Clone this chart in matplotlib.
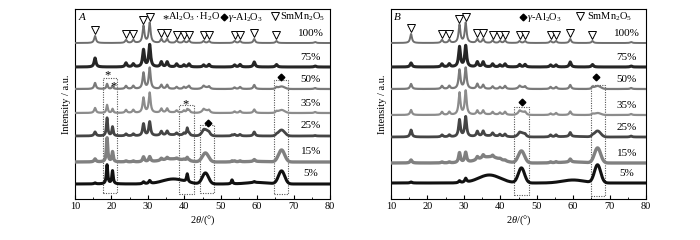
import numpy as np
import matplotlib
matplotlib.use("Agg")
import matplotlib.pyplot as plt
from matplotlib.patches import Rectangle

plt.rcParams['font.family'] = ['Liberation Serif', 'DejaVu Sans']
plt.rcParams['mathtext.fontset'] = 'custom'
plt.rcParams['mathtext.rm'] = 'Liberation Serif'
plt.rcParams['mathtext.it'] = 'Liberation Serif:italic'

# ---------------- data ----------------
labels = ['100%', '75%', '50%', '35%', '25%', '15%', '5%']

# SmMn2O5 reflections (2theta) and peak heights per sample
sm_pos = [15.5, 24.0, 26.0, 28.8, 30.5, 33.7, 35.3, 37.9, 39.9, 41.3, 45.3, 46.8, 53.8, 55.3, 59.2, 65.3, 75.9]
A_sm = [
    [7, 3, 3, 17, 20, 4, 4, 2.5, 2, 2.5, 2, 2, 2, 2, 4, 2, 1],
    [9, 4, 3, 17, 22, 5, 5, 3, 2, 3, 2, 2.5, 2, 2.5, 5, 2.5, 1],
    [6, 3, 3, 16, 21, 4, 4, 2, 2, 3, 2, 2, 1.5, 2, 4, 1.5, 1],
    [5, 3, 3, 15, 20, 4, 4, 2, 2, 2.5, 2, 2, 1.5, 2, 3.5, 1.5, 1],
    [4, 2, 2, 12, 14, 4, 4, 2, 2, 2, 1.5, 1.5, 1.5, 1.5, 4, 1, 0.5],
    [3, 1, 1, 5, 5, 2, 2, 1, 1, 1, 0, 0, 1, 1, 2, 0, 0],
    [1, 0, 0, 2, 3, 0, 0, 0, 0, 0, 0, 0, 0, 0, 1, 0, 0],
]
B_sm = [
    [9, 3, 3, 18, 20, 4, 4, 2.5, 2, 2.5, 2, 2, 2, 2, 4, 2, 1],
    [4, 3, 3, 20, 21, 5, 5, 3, 2, 3, 2.5, 2.5, 2, 2, 5, 2.5, 1],
    [5, 3, 3, 19, 21, 5, 4, 2.5, 2, 3, 2, 2, 2, 2, 4, 1.5, 1],
    [5, 3, 3, 22, 24, 4, 4, 2.5, 2, 3, 2, 2, 1.5, 2, 3.5, 1, 1],
    [7, 2, 2, 17, 20, 5, 5, 3, 2, 2.5, 1.5, 1.5, 2, 2, 4, 1, 1],
    [3, 1, 1, 10, 10, 3, 3, 2, 1, 1, 0, 0, 1, 1, 3, 0, 0],
    [1, 0, 0, 2, 4, 0, 0, 0, 0, 0, 0, 0, 0, 0, 0, 0, 0],
]

# Al2O3.H2O reflections (panel A only)
boh_pos = [18.8, 20.3, 40.8, 53.1]
A_boh = [
    [0, 0, 0, 0],
    [0, 0, 0, 0],
    [5, 3, 1, 0],
    [8, 4, 3, 0],
    [18, 9, 7, 1],
    [24, 10, 3, 1],
    [19, 13, 8, 4],
]

# gamma-Al2O3 broad reflections
gam_pos = [45.8, 66.7]
A_gam = [[0, 0], [0, 0], [1.5, 2.5], [2.5, 3], [6, 6], [9, 12], [11, 13]]
B_gam = [[0, 0], [0, 0], [1.5, 3], [3, 2], [4, 6], [12, 15], [15, 18]]

# amorphous humps
hump_pos = [37.0, 60.0]
A_hump = [[0, 0], [0, 0], [0, 0], [0.5, 0], [1, 0], [3, 0.5], [5, 1.5]]
B_hump = [[0, 0], [0, 0], [0, 0], [0.5, 0], [1, 0.5], [6, 1], [8, 3]]

# ---------------- styles / layout ----------------
A_base = [156, 132, 110, 86, 63, 37, 15]
B_base = [156, 132, 110, 84, 62, 36, 16]
colors = ['#6e6e6e', '#262626', '#7a7a7a', '#8c8c8c', '#454545', '#808080', '#111111']
lws = [1.4, 2.2, 1.6, 1.6, 2.0, 2.4, 2.2]

x = np.linspace(10, 80, 2800)


def profile(i, sm, boh, gam, hump):
    y = np.zeros_like(x)
    for p, h in zip(sm_pos, sm[i]):
        y += h / (1 + ((x - p) / 0.3) ** 2)
    if boh is not None:
        for p, h in zip(boh_pos, boh[i]):
            y += h / (1 + ((x - p) / 0.22) ** 2)
    for p, h in zip(gam_pos, gam[i]):
        y += h * np.exp(-0.5 * ((x - p) / 0.85) ** 2)
    for p, h in zip(hump_pos, hump[i]):
        y += h * np.exp(-0.5 * ((x - p) / 3.0) ** 2)
    return y


fig = plt.figure(figsize=(7, 2.4), dpi=100)
axA = fig.add_axes([75 / 700, 41 / 240, 255 / 700, 190 / 240])
axB = fig.add_axes([391 / 700, 41 / 240, 255 / 700, 190 / 240])

FS = 7.5
LFS = 8
GFS = 7.5
TRI = 5.2


def setup(ax):
    ax.set_xlim(10, 80)
    ax.set_ylim(0, 190)
    ax.set_yticks([])
    ax.set_xticks(np.arange(10, 81, 10))
    ax.set_xticks(np.arange(15, 80, 10), minor=True)
    ax.tick_params(axis='x', direction='in', length=3, labelsize=FS, pad=2, top=False)
    ax.tick_params(axis='x', which='minor', direction='in', length=1.8)
    for s in ax.spines.values():
        s.set_linewidth(0.8)
    ax.set_xlabel(r'2$\theta$/(°)', fontsize=FS, labelpad=2)
    ax.set_ylabel('Intensity / a.u.', fontsize=FS, labelpad=3)


def draw(ax, sm, boh, gam, hump, base):
    for i, lab in enumerate(labels):
        y = profile(i, sm, boh, gam, hump) + base[i]
        ax.plot(x, y, color=colors[i], lw=lws[i], zorder=3, solid_joinstyle='round')
        ax.text(74.7, base[i] + 10, lab, fontsize=LFS, ha='center', va='center', zorder=4)
    # triangle markers above the 100% peaks
    tri_pos = [p for p in sm_pos if p < 70]
    tri_y = [base[0] + h + 6 for p, h in zip(sm_pos, sm[0]) if p < 70]
    ax.plot(tri_pos, tri_y, linestyle='none', marker='v', ms=TRI, mfc='white',
            mec='black', mew=0.7, zorder=5)


def box(ax, x0, x1, y0, y1):
    ax.add_patch(Rectangle((x0, y0), x1 - x0, y1 - y0, fill=False, ls=(0, (1, 1.2)),
                           lw=0.8, ec='#555555', zorder=2))


setup(axA)
setup(axB)
draw(axA, A_sm, A_boh, A_gam, A_hump, A_base)
draw(axB, B_sm, None, B_gam, B_hump, B_base)

# Panel A annotations
box(axA, 17.6, 21.4, 6, 121)
box(axA, 38.6, 42.6, 5, 94)
box(axA, 44.2, 48.2, 6, 74)
box(axA, 64.6, 68.6, 5, 119)
axA.text(19.0, 124, '*', fontsize=9, ha='center', va='center')
axA.text(20.5, 113, '*', fontsize=9, ha='center', va='center')
axA.text(40.3, 95, '*', fontsize=9, ha='center', va='center')
axA.plot([46.5], [76], marker='D', ms=3.4, color='black', ls='none')
axA.plot([66.5], [122], marker='D', ms=3.4, color='black', ls='none')
axA.text(12.0, 182, 'A', fontsize=LFS, style='italic', ha='center', va='center')
axA.text(34.9, 180, '*', fontsize=9, ha='center', va='center')
axA.text(35.6, 182, r'Al$_2$O$_3\cdot$H$_2$O', fontsize=GFS, ha='left', va='center')
axA.plot([50.9], [182], marker='D', ms=3.4, color='black', ls='none')
axA.text(52.0, 182, r'$\gamma$-Al$_2$O$_3$', fontsize=GFS, ha='left', va='center')
axA.plot([65.0], [183], marker='v', ms=TRI, mfc='white', mec='black', mew=0.7, ls='none')
axA.text(66.3, 182, r'SmMn$_2$O$_5$', fontsize=GFS, ha='left', va='center')

# Panel B annotations
box(axB, 43.8, 47.9, 4, 92)
box(axB, 64.9, 68.7, 3, 114)
axB.plot([46.0], [97], marker='D', ms=3.4, color='black', ls='none')
axB.plot([66.2], [122], marker='D', ms=3.4, color='black', ls='none')
axB.text(11.6, 182, 'B', fontsize=LFS, style='italic', ha='center', va='center')
axB.plot([46.2], [182], marker='D', ms=3.4, color='black', ls='none')
axB.text(47.3, 182, r'$\gamma$-Al$_2$O$_3$', fontsize=GFS, ha='left', va='center')
axB.plot([62.0], [183], marker='v', ms=TRI, mfc='white', mec='black', mew=0.7, ls='none')
axB.text(63.8, 182, r'SmMn$_2$O$_5$', fontsize=GFS, ha='left', va='center')

fig.savefig('out.png', dpi=100)
